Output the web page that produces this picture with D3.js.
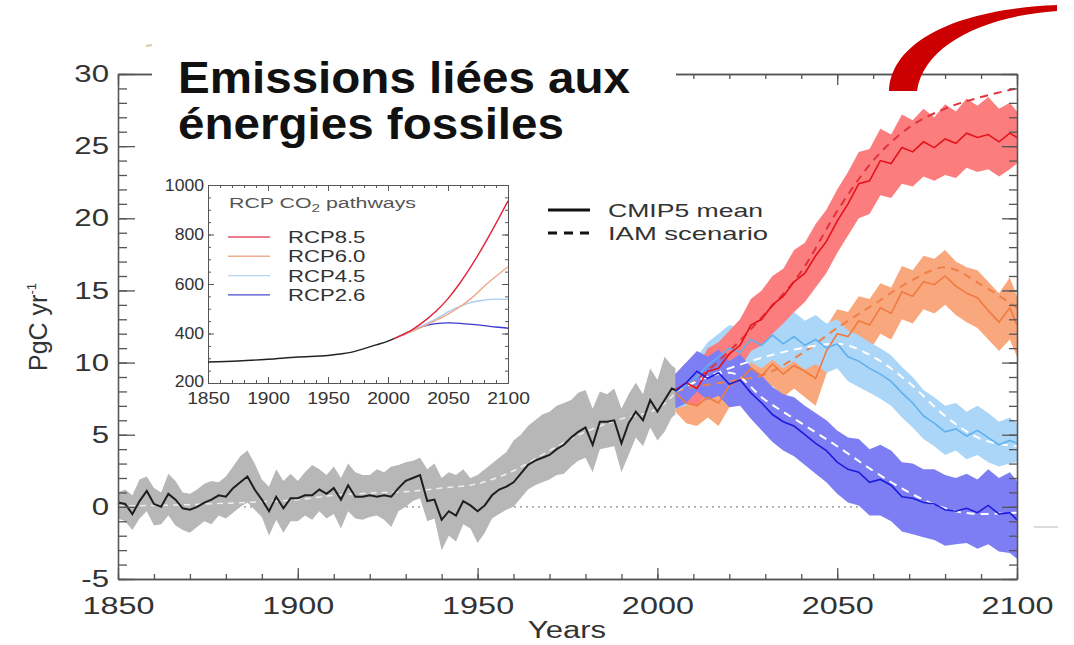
<!DOCTYPE html>
<html><head><meta charset="utf-8">
<script src="https://cdn.jsdelivr.net/npm/d3@7"></script>
<style>
html,body{margin:0;padding:0;background:#fff;}
svg{display:block;}
text{font-family:"Liberation Sans",Arial,sans-serif;}
</style></head><body>
<svg id="c" width="1074" height="645"></svg>
<script>
// ---------------- DATA ----------------
const yTickValues = [-5,0,5,10,15,20,25,30];
const xTickValues = [1850,1900,1950,2000,2050,2100];

// historical CMIP5 mean and spread (PgC/yr)
const histYears = d3.range(1850, 2005, 2).concat([2005]);
const histMean = [0.3,0.2,-0.5,0.4,1.1,0.2,0.0,0.9,0.5,-0.1,
  -0.2,0.0,0.3,0.5,0.8,0.7,1.3,1.7,2.1,1.2,
  0.5,-0.3,0.7,-0.1,0.6,0.6,0.8,0.8,1.2,0.9,
  1.3,0.5,1.5,0.7,0.7,0.8,0.7,0.8,0.7,1.3,
  1.8,2.0,2.2,0.4,0.5,-0.9,-0.3,-0.6,0.4,0.1,
  -0.3,0.1,0.8,1.2,1.4,1.7,2.3,2.9,3.2,3.4,
  3.6,4.0,4.3,4.8,5.2,5.5,4.3,5.9,5.9,6.0,
  4.4,5.8,6.6,6.0,7.4,6.6,7.4,8.2,
  8.1];
const histLo = [-0.8,-1.0,-1.6,-0.8,-0.3,-1.3,-1.2,-0.6,-1.3,-1.6,
  -1.8,-1.4,-1.0,-1.2,-0.6,-0.8,-0.4,0.0,0.3,-0.2,
  -0.7,-2.0,-0.9,-1.8,-1.0,-1.0,-0.6,-0.9,-0.3,-0.8,
  -0.5,-1.5,-0.3,-0.8,-0.9,-0.7,-0.6,-0.9,-1.4,-0.3,
  0.0,0.4,0.6,-1.0,-0.8,-3.0,-2.0,-2.4,-1.2,-1.5,
  -2.5,-1.8,-0.8,-0.5,-0.2,0.0,0.6,1.2,1.5,1.7,
  1.9,2.2,2.3,2.8,3.2,3.4,2.4,4.0,4.1,4.2,
  2.4,3.6,4.8,4.2,5.5,4.6,5.2,6.2,
  6.4];
const histHi = [1.0,1.2,0.8,1.9,2.1,1.3,1.0,2.3,1.8,1.0,
  0.9,1.2,1.6,1.8,1.7,2.1,2.8,3.5,3.9,3.0,
  1.9,1.4,2.6,1.8,2.3,1.8,2.4,2.9,2.6,2.2,
  2.8,2.0,3.0,2.4,2.2,2.2,2.6,2.4,2.8,2.9,
  3.1,3.2,3.4,2.6,3.0,2.0,2.4,2.2,2.6,2.0,
  2.2,2.6,3.0,3.4,3.8,4.6,5.0,5.6,6.0,6.4,
  6.6,7.0,7.2,7.4,7.9,8.1,6.8,8.0,7.8,8.2,
  6.8,7.8,8.6,7.8,9.6,8.8,10.4,9.8,
  9.6];
const histIamYears = [1850,1860,1870,1880,1890,1900,1910,1920,1930,1940,1950,1960,1970,1980,1990,2000,2005];
const histIam = [0.05,0.1,0.15,0.25,0.35,0.5,0.8,0.95,1.05,1.3,1.6,2.5,3.9,5.2,6.1,6.8,7.9];

// scenarios
const scenYears = d3.range(2005, 2099, 3).concat([2100]);
const rcp85Mean = [8.1,8.6,8.2,9.4,9.6,10.6,11.2,12.6,13.0,14.0,14.6,15.6,16.2,17.4,18.4,19.8,21.0,22.4,22.6,24.0,23.8,24.9,24.6,25.3,24.9,25.5,25.2,25.9,25.6,25.8,25.3,25.9,25.6];
const rcp85Lo = [7.0,7.2,7.0,7.9,8.0,9.0,9.6,10.8,11.2,12.0,12.7,13.5,14.2,15.2,16.2,17.6,18.8,20.0,20.3,21.6,21.4,22.4,22.2,22.9,22.6,23.0,22.8,23.5,23.2,23.4,22.9,23.4,23.8];
const rcp85Hi = [9.2,10.0,9.6,11.0,11.4,12.2,13.0,14.4,15.0,16.0,16.5,17.8,18.3,19.6,20.6,22.0,23.2,24.6,24.8,26.2,25.8,27.2,26.8,27.6,27.0,27.9,27.4,28.3,27.8,28.4,27.6,28.0,27.4];
const rcp60Mean = [7.9,7.2,7.0,7.6,7.2,8.4,8.8,9.6,9.1,9.9,9.2,9.8,9.4,8.9,10.8,12.0,11.8,12.9,12.6,13.8,13.4,14.9,14.6,15.6,15.4,16.0,15.3,14.8,14.5,13.6,12.8,13.8,12.6];
const rcp60Lo = [6.6,5.8,5.6,6.2,5.6,6.9,7.2,8.0,7.3,8.4,7.6,8.2,7.6,7.0,9.2,10.3,10.1,11.2,10.8,12.0,11.6,13.0,12.7,13.7,13.4,14.0,13.3,12.8,12.4,11.6,10.8,11.6,10.4];
const rcp60Hi = [9.0,8.6,8.4,9.0,8.8,9.9,10.4,11.2,10.8,11.6,10.9,11.5,11.2,10.8,12.5,13.7,13.5,14.6,14.4,15.5,15.2,16.7,16.4,17.4,17.2,17.8,17.0,16.6,16.4,15.6,14.8,15.9,14.6];
const rcp45Mean = [8.0,8.4,9.0,9.8,10.4,11.0,10.7,11.6,11.2,11.9,11.3,11.8,11.2,11.6,11.0,11.3,10.4,10.1,9.6,9.2,8.7,7.9,7.2,6.3,5.8,5.2,5.4,4.9,5.3,4.8,4.3,4.6,4.4];
const rcp45Lo = [6.8,7.0,7.6,8.3,8.9,9.5,9.2,10.0,9.6,10.2,9.6,10.1,9.5,9.9,9.3,9.6,8.7,8.3,7.9,7.5,7.0,6.2,5.5,4.7,4.2,3.6,3.9,3.3,3.6,3.1,2.8,3.0,3.1];
const rcp45Hi = [9.2,9.8,10.4,11.4,12.0,12.6,12.4,13.3,12.9,13.6,13.0,13.5,12.9,13.3,12.7,13.0,12.2,11.9,11.4,11.0,10.5,9.7,9.0,8.1,7.6,7.0,7.2,6.6,7.0,6.5,5.9,6.2,5.8];
const rcp26Mean = [8.0,8.6,9.4,8.9,9.3,8.5,8.8,7.9,7.2,6.4,5.9,5.6,5.0,4.4,3.9,3.1,2.6,2.4,1.7,1.9,1.5,0.7,0.6,0.3,0.2,-0.2,-0.3,-0.1,-0.4,0.1,-0.5,-0.4,-0.9];
const rcp26Lo = [6.8,7.2,8.0,7.4,7.7,6.9,7.0,6.1,5.3,4.5,3.9,3.5,2.9,2.3,1.7,0.9,0.3,0.1,-0.6,-0.6,-1.0,-1.7,-1.9,-2.1,-2.3,-2.7,-2.6,-2.5,-2.9,-2.6,-3.1,-3.2,-3.6];
const rcp26Hi = [9.2,10.0,10.8,10.4,10.9,10.1,10.6,9.7,9.1,8.3,7.8,7.6,7.0,6.5,6.0,5.3,4.8,4.7,4.0,4.3,3.9,3.1,3.0,2.6,2.6,2.2,2.0,2.3,1.9,2.6,2.0,2.4,1.8];

const iamYears = [2005,2010,2020,2030,2040,2050,2060,2070,2080,2090,2100];
const rcp85Iam = [8.0,8.7,10.8,13.4,16.3,20.5,24.0,26.3,27.6,28.4,29.0];
const rcp60Iam = [8.0,8.3,8.7,9.2,10.6,12.4,14.0,15.6,16.6,15.4,13.8];
const rcp45Iam = [8.0,8.6,9.6,10.4,11.0,11.3,10.4,8.6,6.3,4.7,4.2];
const rcp26Iam = [8.0,8.6,9.3,7.4,5.8,4.2,2.5,1.0,-0.1,-0.5,-0.4];

// inset: CO2 concentration (ppm)
const insetXTicks = [1850,1900,1950,2000,2050,2100];
const insetYTicks = [200,400,600,800,1000];
const co2HistYears = [1850,1875,1900,1925,1950,1960,1970,1980,1990,2000,2005];
const co2Hist = [285,289,296,305,311,317,325,339,354,369,379];
const co2ScenYears = [2005,2010,2020,2030,2040,2050,2060,2070,2080,2090,2100];
const co2Rcp85 = [379,390,415,449,490,541,604,677,758,845,936];
const co2Rcp60 = [379,389,409,430,453,478,508,545,590,631,670];
const co2Rcp45 = [379,390,412,435,459,487,510,527,535,539,538];
const co2Rcp26 = [379,390,412,430,440,443,441,437,432,426,421];
const insetLegend = ["RCP8.5","RCP6.0","RCP4.5","RCP2.6"];

// ---------------- DRAW ----------------
const svg = d3.select("#c");
const x = d3.scaleLinear([1850,2100],[118,1017]);
const y = d3.scaleLinear([-5,30],[579,74]);
const fmt = d => String(d);

function stretch(sel, s){
  sel.each(function(){
    const w = this.getComputedTextLength();
    this.setAttribute("textLength", w*s);
    this.setAttribute("lengthAdjust","spacingAndGlyphs");
  });
}
const zip = (xs, ...cols) => xs.map((v,i)=>({x:v, a:cols[0][i], b:cols[1]?cols[1][i]:null}));

// zero dotted line
svg.append("line").attr("x1",x(1850)).attr("x2",x(2100)).attr("y1",y(0)).attr("y2",y(0))
  .attr("stroke","#8a8a8a").attr("stroke-width",1.2).attr("stroke-dasharray","2,4");

const area = d3.area().x(d=>x(d.x)).y0(d=>y(d.a)).y1(d=>y(d.b));
const line = d3.line().x(d=>x(d.x)).y(d=>y(d.a));
const smooth = d3.line().x(d=>x(d.x)).y(d=>y(d.a)).curve(d3.curveMonotoneX);

// bands
svg.append("path").datum(zip(histYears, histLo, histHi)).attr("d",area).attr("fill","#b7b7b7");
const scen = [
  {lo:rcp60Lo, hi:rcp60Hi, mean:rcp60Mean, iam:rcp60Iam, band:"#f9a87e", col:"#f07a40", dash:"#ef7f48"},
  {lo:rcp45Lo, hi:rcp45Hi, mean:rcp45Mean, iam:rcp45Iam, band:"#abd6f8", col:"#5fb0ee", dash:"#ffffff"},
  {lo:rcp85Lo, hi:rcp85Hi, mean:rcp85Mean, iam:rcp85Iam, band:"#fb7d7d", col:"#e5121c", dash:"#e2323c"},
  {lo:rcp26Lo, hi:rcp26Hi, mean:rcp26Mean, iam:rcp26Iam, band:"#7e7ef4", col:"#1c1cdc", dash:"#ffffff"}
];
scen.forEach(s=>{
  svg.append("path").datum(zip(scenYears, s.lo, s.hi)).attr("d",area).attr("fill",s.band);
});
// dashed IAM
svg.append("path").datum(zip(histIamYears, histIam)).attr("d",smooth)
  .attr("fill","none").attr("stroke","#efefef").attr("stroke-width",1.5).attr("stroke-dasharray","6,5");
scen.forEach(s=>{
  svg.append("path").datum(zip(iamYears, s.iam)).attr("d",smooth)
    .attr("fill","none").attr("stroke",s.dash).attr("stroke-width",2).attr("stroke-dasharray","8,6");
});
// means
svg.append("path").datum(zip(histYears, histMean)).attr("d",line)
  .attr("fill","none").attr("stroke","#1e1e1e").attr("stroke-width",2);
scen.forEach(s=>{
  svg.append("path").datum(zip(scenYears, s.mean)).attr("d",line)
    .attr("fill","none").attr("stroke",s.col).attr("stroke-width",1.6);
});

// axes
const axCol = "#555";
function styleAxis(g){
  g.select(".domain").attr("stroke",axCol).attr("stroke-width",1.3);
  g.selectAll(".tick line").attr("stroke",axCol).attr("stroke-width",1.3);
  g.selectAll("text").attr("fill","#333").attr("font-family","'Liberation Sans',Arial,sans-serif");
}
const minorX = d3.range(1850,2101,10);
const minorY = d3.range(-5,31,1);
// bottom
svg.append("g").attr("transform","translate(0,579)")
  .call(d3.axisBottom(x).tickValues(minorX).tickSize(-5).tickSizeOuter(0).tickFormat(""))
  .call(styleAxis);
const gb = svg.append("g").attr("transform","translate(0,579)")
  .call(d3.axisBottom(x).tickValues(xTickValues).tickSize(-11).tickSizeOuter(0).tickPadding(18).tickFormat(fmt))
  .call(styleAxis);
gb.selectAll("text").attr("font-size",24);
stretch(gb.selectAll("text"),1.35);
// top
svg.append("g").attr("transform","translate(0,74)")
  .call(d3.axisTop(x).tickValues(minorX).tickSize(-5).tickSizeOuter(0).tickFormat(""))
  .call(styleAxis);
svg.append("g").attr("transform","translate(0,74)")
  .call(d3.axisTop(x).tickValues(xTickValues).tickSize(-11).tickSizeOuter(0).tickFormat(""))
  .call(styleAxis);
// left
svg.append("g").attr("transform","translate(118,0)")
  .call(d3.axisLeft(y).tickValues(minorY).tickSize(-9).tickSizeOuter(0).tickFormat(""))
  .call(styleAxis);
const gl = svg.append("g").attr("transform","translate(118,0)")
  .call(d3.axisLeft(y).tickValues(yTickValues).tickSize(-17).tickSizeOuter(0).tickPadding(9).tickFormat(fmt))
  .call(styleAxis);
gl.selectAll("text").attr("font-size",24);
stretch(gl.selectAll("text"),1.3);
// right
svg.append("g").attr("transform","translate(1017,0)")
  .call(d3.axisRight(y).tickValues(minorY).tickSize(-8).tickSizeOuter(0).tickFormat(""))
  .call(styleAxis);
svg.append("g").attr("transform","translate(1017,0)")
  .call(d3.axisRight(y).tickValues(yTickValues).tickSize(-15).tickSizeOuter(0).tickFormat(""))
  .call(styleAxis);

// axis titles
const yt = svg.append("text").attr("x",567).attr("y",638).attr("text-anchor","middle")
  .attr("font-size",23).attr("fill","#333").text("Years");
stretch(yt,1.35);
const pl = svg.append("text").attr("transform","translate(47,327) rotate(-90)").attr("text-anchor","middle")
  .attr("font-size",25).attr("fill","#333");
pl.append("tspan").text("PgC yr");
pl.append("tspan").attr("font-size",13).attr("dy",-11).text("-1");

// legend
const lg = svg.append("g");
lg.append("line").attr("x1",548).attr("x2",590).attr("y1",210).attr("y2",210).attr("stroke","#111").attr("stroke-width",3);
lg.append("line").attr("x1",548).attr("x2",590).attr("y1",233).attr("y2",233).attr("stroke","#111").attr("stroke-width",3).attr("stroke-dasharray","9,7");
lg.append("text").attr("x",608).attr("y",217).attr("font-size",19).attr("fill","#333").attr("textLength",155).attr("lengthAdjust","spacingAndGlyphs").text("CMIP5 mean");
lg.append("text").attr("x",608).attr("y",240).attr("font-size",19).attr("fill","#333").attr("textLength",160).attr("lengthAdjust","spacingAndGlyphs").text("IAM scenario");

// title (white box over top axis)
svg.append("rect").attr("x",152).attr("y",40).attr("width",524).attr("height",70).attr("fill","#fff");
svg.append("text").attr("x",178).attr("y",93).attr("font-family","Lato,'Open Sans',sans-serif").attr("font-weight","bold")
  .attr("font-size",44).attr("fill","#111").attr("textLength",452).attr("lengthAdjust","spacingAndGlyphs").text("Emissions liées aux");
svg.append("text").attr("x",178).attr("y",139).attr("font-family","Lato,'Open Sans',sans-serif").attr("font-weight","bold")
  .attr("font-size",44).attr("fill","#111").attr("textLength",386).attr("lengthAdjust","spacingAndGlyphs").text("énergies fossiles");

// ---------------- INSET ----------------
const ix = d3.scaleLinear([1850,2100],[208,508]);
const iy = d3.scaleLinear([200,1000],[383,185]);
const ig = svg.append("g");
ig.append("rect").attr("x",208).attr("y",185).attr("width",300).attr("height",198).attr("fill","#fff");
const iCol = "#555";
function styleI(g){
  g.select(".domain").attr("stroke",iCol).attr("stroke-width",1);
  g.selectAll(".tick line").attr("stroke",iCol).attr("stroke-width",1);
  g.selectAll("text").attr("fill","#333").attr("font-family","'Liberation Sans',Arial,sans-serif");
}
const iMinX = d3.range(1850,2101,10), iMinY = d3.range(200,1001,50);
ig.append("g").attr("transform","translate(0,383)").call(d3.axisBottom(ix).tickValues(iMinX).tickSize(-3).tickSizeOuter(0).tickFormat("")).call(styleI);
const ib = ig.append("g").attr("transform","translate(0,383)").call(d3.axisBottom(ix).tickValues(insetXTicks).tickSize(-6).tickSizeOuter(0).tickPadding(10).tickFormat(fmt)).call(styleI);
ib.selectAll("text").attr("font-size",16);
stretch(ib.selectAll("text"),1.2);
ig.append("g").attr("transform","translate(0,185)").call(d3.axisTop(ix).tickValues(iMinX).tickSize(-3).tickSizeOuter(0).tickFormat("")).call(styleI);
ig.append("g").attr("transform","translate(0,185)").call(d3.axisTop(ix).tickValues(insetXTicks).tickSize(-6).tickSizeOuter(0).tickFormat("")).call(styleI);
ig.append("g").attr("transform","translate(208,0)").call(d3.axisLeft(iy).tickValues(iMinY).tickSize(-3).tickSizeOuter(0).tickFormat("")).call(styleI);
const il = ig.append("g").attr("transform","translate(208,0)").call(d3.axisLeft(iy).tickValues(insetYTicks).tickSize(-6).tickSizeOuter(0).tickPadding(4).tickFormat(fmt)).call(styleI);
il.selectAll("text").attr("font-size",16);
il.selectAll(".tick").filter(d=>d===200).select("text").attr("dy","0.2em");
stretch(il.selectAll("text"),1.1);
ig.append("g").attr("transform","translate(508,0)").call(d3.axisRight(iy).tickValues(iMinY).tickSize(-3).tickSizeOuter(0).tickFormat("")).call(styleI);
ig.append("g").attr("transform","translate(508,0)").call(d3.axisRight(iy).tickValues(insetYTicks).tickSize(-6).tickSizeOuter(0).tickFormat("")).call(styleI);

const iline = d3.line().x(d=>ix(d.x)).y(d=>iy(d.a)).curve(d3.curveMonotoneX);
const insetSeries = [
  {v:co2Rcp26, c:"#3a3ad2"},
  {v:co2Rcp45, c:"#a9cdf2"},
  {v:co2Rcp60, c:"#f2a688"},
  {v:co2Rcp85, c:"#e2223a"}
];
insetSeries.forEach(s=>{
  ig.append("path").datum(zip(co2ScenYears, s.v)).attr("d",iline).attr("fill","none").attr("stroke",s.c).attr("stroke-width",1.4);
});
ig.append("path").datum(zip(co2HistYears, co2Hist)).attr("d",iline).attr("fill","none").attr("stroke","#222").attr("stroke-width",1.4);

const it = ig.append("text").attr("x",229).attr("y",208).attr("font-size",14).attr("fill","#555");
it.append("tspan").text("RCP CO");
it.append("tspan").attr("font-size",10).attr("dy",4).text("2");
it.append("tspan").attr("dy",-4).text(" pathways");
it.attr("textLength",187).attr("lengthAdjust","spacingAndGlyphs");

const legCols = ["#e8506a","#f2ad90","#b5d5f2","#4a4ad6"];
insetLegend.forEach((name,i)=>{
  const yy = 237 + i*19.3;
  ig.append("line").attr("x1",228).attr("x2",270).attr("y1",yy).attr("y2",yy).attr("stroke",legCols[i]).attr("stroke-width",1.4);
  const t = ig.append("text").attr("x",288).attr("y",yy).attr("dy","0.36em").attr("font-size",17).attr("fill","#333").text(name);
  stretch(t,1.3);
});

// decorations
svg.append("path").attr("d","M889,91 C891,42 955,9 1057,5 L1057,11 C985,16 924,44 917,91 Z").attr("fill","#cc0000");
svg.append("line").attr("x1",146).attr("x2",152).attr("y1",46).attr("y2",45).attr("stroke","#d9c9a0").attr("stroke-width",2);
svg.append("line").attr("x1",1034).attr("x2",1058).attr("y1",527).attr("y2",527).attr("stroke","#cfcfcf").attr("stroke-width",1.5);
</script>
</body></html>
